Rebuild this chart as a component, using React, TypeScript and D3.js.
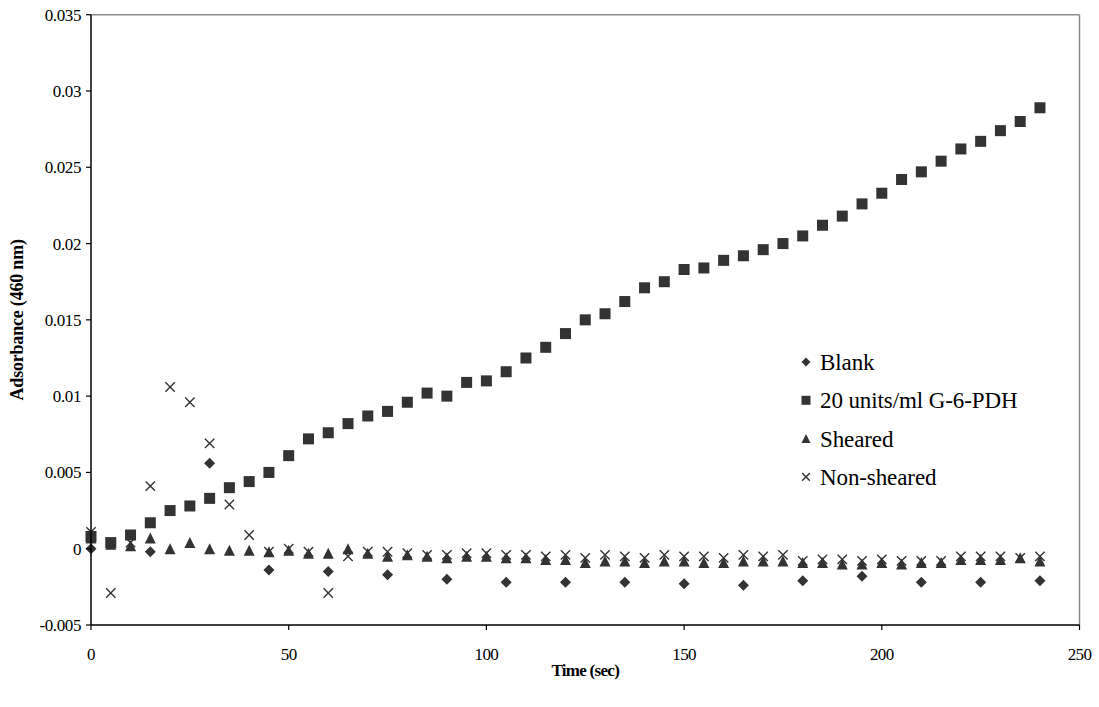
import React from "react";
import * as d3 from "d3";

// Absorbance readings at 460 nm, sampled every 5 s (Blank every 15 s)
const timesFine: number[] = [
  0, 5, 10, 15, 20, 25, 30, 35, 40, 45, 50, 55, 60, 65, 70, 75, 80, 85, 90, 95,
  100, 105, 110, 115, 120, 125, 130, 135, 140, 145, 150, 155, 160, 165, 170, 175,
  180, 185, 190, 195, 200, 205, 210, 215, 220, 225, 230, 235, 240,
];
const timesBlank: number[] = [0, 15, 30, 45, 60, 75, 90, 105, 120, 135, 150, 165, 180, 195, 210, 225, 240];

const blank: number[] = [
  0.0, -0.0002, 0.0056, -0.0014, -0.0015, -0.0017, -0.002, -0.0022, -0.0022,
  -0.0022, -0.0023, -0.0024, -0.0021, -0.0018, -0.0022, -0.0022, -0.0021,
];

const g6pdh: number[] = [
  0.0008, 0.0004, 0.0009, 0.0017, 0.0025, 0.0028, 0.0033, 0.004, 0.0044, 0.005,
  0.0061, 0.0072, 0.0076, 0.0082, 0.0087, 0.009, 0.0096, 0.0102, 0.01, 0.0109,
  0.011, 0.0116, 0.0125, 0.0132, 0.0141, 0.015, 0.0154, 0.0162, 0.0171, 0.0175,
  0.0183, 0.0184, 0.0189, 0.0192, 0.0196, 0.02, 0.0205, 0.0212, 0.0218, 0.0226,
  0.0233, 0.0242, 0.0247, 0.0254, 0.0262, 0.0267, 0.0274, 0.028, 0.0289,
];

const sheared: number[] = [
  0.0007, 0.0003, 0.0002, 0.0007, 0.0, 0.0004, 0.0, -0.0001, -0.0001, -0.0002,
  -0.0001, -0.0003, -0.0003, 0.0, -0.0003, -0.0005, -0.0004, -0.0005, -0.0006, -0.0005,
  -0.0005, -0.0006, -0.0006, -0.0007, -0.0007, -0.0009, -0.0008, -0.0008, -0.0009, -0.0008,
  -0.0008, -0.0009, -0.0009, -0.0008, -0.0008, -0.0008, -0.0009, -0.0009, -0.001, -0.001,
  -0.0009, -0.001, -0.0009, -0.0009, -0.0007, -0.0007, -0.0007, -0.0006, -0.0008,
];

const nonSheared: number[] = [
  0.0011, -0.0029, 0.0004, 0.0041, 0.0106, 0.0096, 0.0069, 0.0029, 0.0009, -0.0002,
  0.0, -0.0002, -0.0029, -0.0005, -0.0002, -0.0002, -0.0003, -0.0004, -0.0004, -0.0003,
  -0.0003, -0.0004, -0.0004, -0.0005, -0.0004, -0.0006, -0.0004, -0.0005, -0.0006, -0.0004,
  -0.0005, -0.0005, -0.0006, -0.0004, -0.0005, -0.0004, -0.0008, -0.0007, -0.0007, -0.0008,
  -0.0007, -0.0008, -0.0008, -0.0008, -0.0005, -0.0005, -0.0005, -0.0006, -0.0005,
];

const yTicks: number[] = [-0.005, 0, 0.005, 0.01, 0.015, 0.02, 0.025, 0.03, 0.035];
const yTickLabels: string[] = ["-0.005", "0", "0.005", "0.01", "0.015", "0.02", "0.025", "0.03", "0.035"];
const xTicks: number[] = [0, 50, 100, 150, 200, 250];

const legendLabels: string[] = ["Blank", "20 units/ml G-6-PDH", "Sheared", "Non-sheared"];

const W = 1099;
const H = 707;
const left = 91;
const right = 1079.5;
const top = 14.7;
const bottom = 625;

const INK = "#333333";
const FONT = "'Liberation Serif', 'Times New Roman', serif";

type Kind = "diamond" | "square" | "triangle" | "cross";

function Marker({ kind, x, y, s }: { kind: Kind; x: number; y: number; s: number }) {
  const h = s / 2;
  if (kind === "square") {
    return <rect x={x - h} y={y - h} width={s} height={s} fill={INK} />;
  }
  if (kind === "diamond") {
    return <path d={`M${x},${y - h}L${x + h},${y}L${x},${y + h}L${x - h},${y}Z`} fill={INK} />;
  }
  if (kind === "triangle") {
    return <path d={`M${x},${y - h}L${x + h},${y + h}L${x - h},${y + h}Z`} fill={INK} />;
  }
  const c = h * 0.85;
  return (
    <path
      d={`M${x - c},${y - c}L${x + c},${y + c}M${x + c},${y - c}L${x - c},${y + c}`}
      stroke={INK}
      strokeWidth={1.4}
      fill="none"
    />
  );
}

export default function App() {
  const x = d3.scaleLinear().domain([0, 250]).range([left, right]);
  const y = d3.scaleLinear().domain([-0.005, 0.035]).range([bottom, top]);

  const series: { kind: Kind; t: number[]; v: number[] }[] = [
    { kind: "diamond", t: timesBlank, v: blank },
    { kind: "square", t: timesFine, v: g6pdh },
    { kind: "triangle", t: timesFine, v: sheared },
    { kind: "cross", t: timesFine, v: nonSheared },
  ];
  const legendKinds: Kind[] = ["diamond", "square", "triangle", "cross"];

  return (
    <svg
      width={W}
      height={H}
      style={{ position: "absolute", left: 0, top: 0, background: "#fff" }}
      fontFamily={FONT}
    >
      <rect x={0} y={0} width={W} height={H} fill="#fff" />
      {/* plot frame: grey top and right edges */}
      <line x1={left} x2={right} y1={top} y2={top} stroke="#8c8c8c" strokeWidth={1.5} />
      <line x1={right} x2={right} y1={top} y2={bottom} stroke="#8c8c8c" strokeWidth={1.5} />

      {/* markers */}
      {series.map((s, si) => (
        <g key={si}>
          {s.t.map((t, i) => (
            <Marker key={i} kind={s.kind} x={x(t)} y={y(s.v[i])} s={11} />
          ))}
        </g>
      ))}

      {/* y axis */}
      <line x1={left} x2={left} y1={top} y2={bottom} stroke="#000" strokeWidth={1.5} />
      {yTicks.map((v, i) => (
        <g key={i}>
          <line x1={left - 5} x2={left} y1={y(v)} y2={y(v)} stroke="#000" strokeWidth={1.2} />
          <text
            x={left - 10}
            y={y(v)}
            dy="0.35em"
            textAnchor="end"
            fontSize={17}
            letterSpacing={-0.4}
            fill="#000"
          >
            {yTickLabels[i]}
          </text>
        </g>
      ))}

      {/* x axis */}
      <line x1={left} x2={right} y1={bottom} y2={bottom} stroke="#000" strokeWidth={1.5} />
      {xTicks.map((v, i) => (
        <g key={i}>
          <line x1={x(v)} x2={x(v)} y1={bottom} y2={bottom + 5} stroke="#000" strokeWidth={1.2} />
          <text x={x(v)} y={bottom + 35} textAnchor="middle" fontSize={17} letterSpacing={-0.6} fill="#000">
            {v}
          </text>
        </g>
      ))}

      {/* axis titles */}
      <text
        x={(left + right) / 2}
        y={676}
        textAnchor="middle"
        fontSize={17}
        fontWeight="bold"
        letterSpacing={-0.7}
        fill="#000"
      >
        Time (sec)
      </text>
      <text
        transform={`translate(23,${(top + bottom) / 2}) rotate(-90)`}
        textAnchor="middle"
        fontSize={18}
        fontWeight="bold"
        letterSpacing={-0.2}
        fill="#000"
      >
        Adsorbance (460 nm)
      </text>

      {/* legend */}
      {legendLabels.map((lab, i) => {
        const ly = 362 + i * 38.3;
        return (
          <g key={i}>
            <Marker kind={legendKinds[i]} x={806} y={ly} s={9} />
            <text x={820} y={ly} dy="0.35em" fontSize={23} letterSpacing={-0.1} fill="#000">
              {lab}
            </text>
          </g>
        );
      })}
    </svg>
  );
}
